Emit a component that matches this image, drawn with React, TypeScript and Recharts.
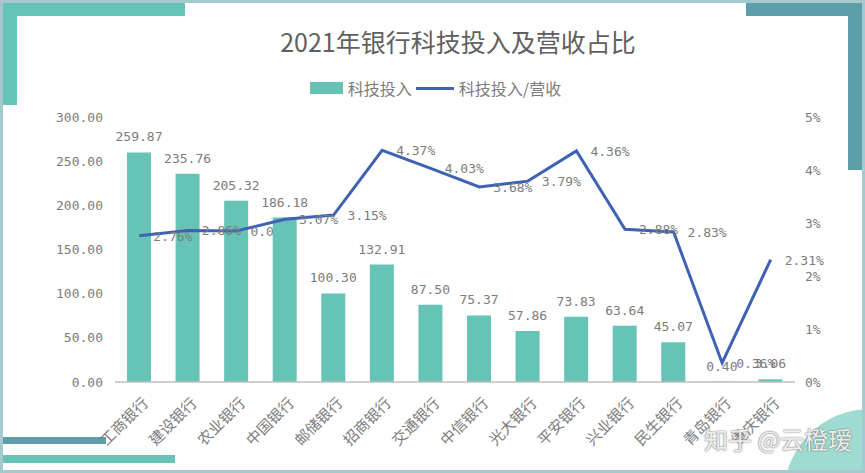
import React from "react";
import {
  ComposedChart,
  Bar,
  Line,
  XAxis,
  YAxis,
  LabelList,
} from "recharts";

const banks = [
  "工商银行",
  "建设银行",
  "农业银行",
  "中国银行",
  "邮储银行",
  "招商银行",
  "交通银行",
  "中信银行",
  "光大银行",
  "平安银行",
  "兴业银行",
  "民生银行",
  "青岛银行",
  "重庆银行",
];
const techInvest = [
  259.87, 235.76, 205.32, 186.18, 100.3, 132.91, 87.5, 75.37, 57.86, 73.83,
  63.64, 45.07, 0.4, 3.06,
];
// 科技投入/营收, in %
const investRatio = [
  2.76, 2.86, 2.85, 3.07, 3.15, 4.37, 4.03, 3.68, 3.79, 4.36, 2.88, 2.83, 0.36,
  2.31,
];
const ratioLabels = [
  "2.76%", "2.86%", "0.0", "3.07%", "3.15%", "4.37%", "4.03%", "3.68%",
  "3.79%", "4.36%", "2.88%", "2.83%", "0.36%", "2.31%",
];
const leftTicks = [0, 50, 100, 150, 200, 250, 300];
const rightTicks = [0, 1, 2, 3, 4, 5];

const TEAL = "#66c4b7";
const BLUE = "#3f63b2";
const GRAY = "#7c7c7c";
const NUM_FONT = "'DejaVu Sans Mono', monospace";
const CJK_FONT = "'Noto Sans CJK SC', 'Noto Sans', sans-serif";

const chartData = banks.map((bank, i) => ({
  bank,
  tech: techInvest[i],
  ratio: investRatio[i],
  ratioLabel: ratioLabels[i],
}));

function CategoryTick({ x, y, payload }: any) {
  const ax = x + 10;
  const ay = y + 14;
  return (
    <text
      x={ax}
      y={ay}
      transform={`rotate(-45 ${ax} ${ay})`}
      textAnchor="end"
      fontSize={15}
      fontFamily={CJK_FONT}
      fill={GRAY}
    >
      {payload.value}
    </text>
  );
}

function RatioLabel(props: any) {
  const { x, y, value } = props;
  return (
    <text
      x={x + 14}
      y={y + 5}
      textAnchor="start"
      fontSize={13}
      fontFamily={NUM_FONT}
      fill={GRAY}
    >
      {value}
    </text>
  );
}

function Legendbox() {
  return (
    <div
      style={{
        position: "absolute",
        left: 3,
        top: 76,
        width: 865,
        display: "flex",
        justifyContent: "center",
        alignItems: "center",
        fontFamily: CJK_FONT,
        fontSize: 16,
        color: GRAY,
      }}
    >
      <div style={{ width: 33, height: 12, background: TEAL, marginRight: 5 }} />
      <span>科技投入</span>
      <div
        style={{ width: 38, height: 3, background: BLUE, margin: "0 5px 0 4px" }}
      />
      <span>科技投入/营收</span>
    </div>
  );
}

export default function App() {
  return (
    <div
      style={{
        position: "absolute",
        left: 0,
        top: 0,
        width: 865,
        height: 473,
        overflow: "hidden",
        background: "#fff",
      }}
    >
      {/* corner decorations */}
      <div style={{ position: "absolute", left: 3, top: 3, width: 182, height: 13, background: TEAL }} />
      <div style={{ position: "absolute", left: 3, top: 3, width: 14, height: 102, background: TEAL }} />
      <div style={{ position: "absolute", left: 746, top: 3, width: 116, height: 13, background: "#5e9daa" }} />
      <div style={{ position: "absolute", left: 848, top: 3, width: 14, height: 167, background: "#5e9daa" }} />
      <div style={{ position: "absolute", left: 3, top: 437, width: 103, height: 7, background: "#5e9daa" }} />
      <div style={{ position: "absolute", left: 3, top: 455, width: 172, height: 8, background: TEAL }} />
      <div
        style={{
          position: "absolute",
          left: 784,
          top: 409,
          width: 172,
          height: 172,
          borderRadius: "50%",
          background: "#9edcd2",
        }}
      />

      <div
        style={{
          position: "absolute",
          left: 0,
          top: 23,
          width: 916,
          textAlign: "center",
          fontFamily: CJK_FONT,
          fontSize: 25,
          color: "#606060",
        }}
      >
        2021年银行科技投入及营收占比
      </div>
      <Legendbox />

      <div style={{ position: "absolute", left: 0, top: 0 }}>
        <ComposedChart
          width={865}
          height={473}
          data={chartData}
          margin={{ top: 117, right: 0, bottom: 0, left: 0 }}
          barCategoryGap="50%"
        >
          <XAxis
            dataKey="bank"
            interval={0}
            height={91}
            tickLine={false}
            axisLine={{ stroke: "#bfbfbf", strokeWidth: 1.5 }}
            tick={<CategoryTick />}
          />
          <YAxis
            yAxisId="left"
            width={115}
            domain={[0, 300]}
            ticks={leftTicks}
            axisLine={false}
            tickLine={false}
            tickSize={0}
            tickMargin={12}
            tickFormatter={(v: number) => v.toFixed(2)}
            tick={{ fontSize: 13, fontFamily: NUM_FONT, fill: GRAY }}
          />
          <YAxis
            yAxisId="right"
            orientation="right"
            width={70}
            domain={[0, 5]}
            ticks={rightTicks}
            axisLine={false}
            tickLine={false}
            tickSize={0}
            tickMargin={10}
            tickFormatter={(v: number) => `${v}%`}
            tick={{ fontSize: 13, fontFamily: NUM_FONT, fill: GRAY }}
          />
          <Bar
            yAxisId="left"
            dataKey="tech"
            fill={TEAL}
            barSize={24}
            isAnimationActive={false}
          >
            <LabelList
              dataKey="tech"
              position="top"
              offset={11}
              formatter={(v: any) => Number(v).toFixed(2)}
              style={{ fontSize: 13, fontFamily: NUM_FONT, fill: GRAY }}
            />
          </Bar>
          <Line
            yAxisId="right"
            dataKey="ratio"
            type="linear"
            stroke={BLUE}
            strokeWidth={3}
            dot={false}
            activeDot={false}
            isAnimationActive={false}
          >
            <LabelList dataKey="ratioLabel" content={<RatioLabel />} />
          </Line>
        </ComposedChart>
      </div>

      <div
        style={{
          position: "absolute",
          left: 704,
          top: 421,
          fontFamily: CJK_FONT,
          fontSize: 24,
          color: "rgba(255,255,255,0.9)",
          textShadow: "0 0 2px #777, 0 0 1px #777",
          whiteSpace: "nowrap",
        }}
      >
        知乎 @云橙瑷
      </div>

      <div
        style={{
          position: "absolute",
          inset: 0,
          border: "3px solid #a6c9cf",
          boxSizing: "border-box",
          pointerEvents: "none",
        }}
      />
    </div>
  );
}
